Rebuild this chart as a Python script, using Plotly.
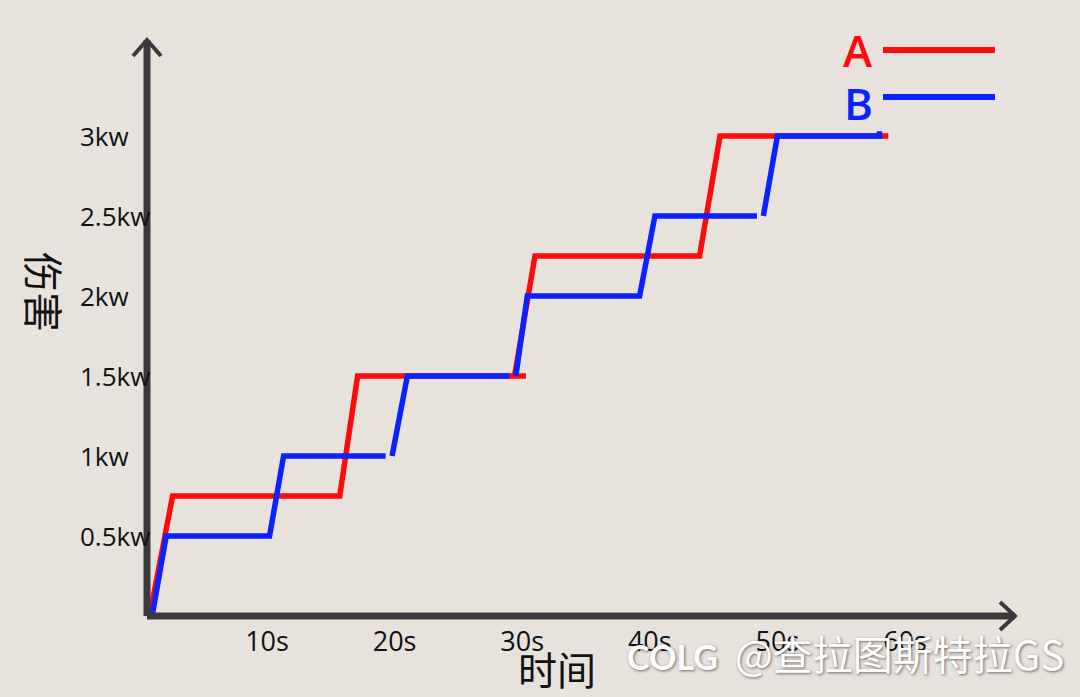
import plotly.graph_objects as go

# ---- data (seconds, kw) ----
a_time = [0.8, 2.6, 15.7, 17.1, 30.3, None, 29.4, 31.0, 43.9, 45.5, 58.7]
a_dmg = [0.0, 0.75, 0.75, 1.5, 1.5, None, 1.5, 2.25, 2.25, 3.0, 3.0]

b_time = [1.0, 2.1, 10.2, 11.3, 19.3, None, 19.8, 21.0, 29.0, None, 29.5, 30.4,
          39.2, 40.4, 48.4, None, 48.9, 50.0, 58.0, 58.0]
b_dmg = [0.0, 0.5, 0.5, 1.0, 1.0, None, 1.0, 1.5, 1.5, None, 1.5, 2.0,
         2.0, 2.5, 2.5, None, 2.5, 3.0, 3.0, 3.03]

x_tick_vals = [10, 20, 30, 40, 50, 60]
x_tick_text = ["10s", "20s", "30s", "40s", "50s", "60s"]
y_tick_vals = [0.5, 1.0, 1.5, 2.0, 2.5, 3.0]
y_tick_text = ["0.5kw", "1kw", "1.5kw", "2kw", "2.5kw", "3kw"]

series_names = ["A", "B"]
series_colors = ["#ff0a0a", "#0a22ff"]

W, H = 1080, 697
L, R, T, B = 147, 65, 40, 81
PW, PH = W - L - R, H - T - B

def px_x(p):
    return (p - L) / PW

def px_y(p):
    return (H - B - p) / PH

fig = go.Figure()
fig.add_trace(go.Scatter(x=a_time, y=a_dmg, mode="lines", name=series_names[0],
                         line=dict(color=series_colors[0], width=5.5), connectgaps=False))
fig.add_trace(go.Scatter(x=b_time, y=b_dmg, mode="lines", name=series_names[1],
                         line=dict(color=series_colors[1], width=5.5), connectgaps=False))

axis_col = "#3a3a3c"
shapes = [
    dict(type="line", xref="paper", yref="paper", x0=0, y0=0, x1=0, y1=1,
         line=dict(color=axis_col, width=7)),
    dict(type="path", xref="paper", yref="paper",
         path=f"M {px_x(133)} {px_y(56)} L 0 1 L {px_x(161)} {px_y(56)}",
         line=dict(color=axis_col, width=4)),
    dict(type="line", xref="paper", yref="paper", x0=0, y0=0, x1=1, y1=0,
         line=dict(color=axis_col, width=7)),
    dict(type="path", xref="paper", yref="paper",
         path=f"M {px_x(1000)} {px_y(602)} L 1 0 L {px_x(1000)} {px_y(630)}",
         line=dict(color=axis_col, width=4)),
    dict(type="line", xref="paper", yref="paper", x0=px_x(883), x1=px_x(995),
         y0=px_y(50), y1=px_y(50), line=dict(color=series_colors[0], width=6)),
    dict(type="line", xref="paper", yref="paper", x0=px_x(883), x1=px_x(995),
         y0=px_y(97), y1=px_y(97), line=dict(color=series_colors[1], width=6)),
]

annotations = []
for v, t in zip(y_tick_vals, y_tick_text):
    annotations.append(dict(x=px_x(78), xref="paper", xanchor="left", y=v, yref="y",
                            yanchor="middle", text=t, showarrow=False,
                            font=dict(family="Open Sans", size=26, color="#111")))
for name, col, yy in zip(series_names, series_colors, [50, 103]):
    annotations.append(dict(x=px_x(858), xref="paper", xanchor="center", y=px_y(yy),
                            yref="paper", yanchor="middle", text=name, showarrow=False,
                            font=dict(family="Open Sans", size=44, color=col, weight=600)))
annotations.append(dict(x=px_x(557), y=px_y(671), xref="paper", yref="paper",
                        yshift=-27, text="时间", showarrow=False,
                        font=dict(family="Noto Sans CJK SC", size=39, color="#111")))
annotations.append(dict(x=px_x(42), y=px_y(292), xref="paper", yref="paper",
                        xshift=-28, text="伤害", showarrow=False, textangle=90,
                        font=dict(family="Noto Sans CJK SC", size=40, color="#111")))
# watermark
annotations.append(dict(x=px_x(672), y=px_y(657), xref="paper", yref="paper",
                        yshift=-22, text="<b>COLG</b>", showarrow=False,
                        font=dict(family="Lato", size=34, color="white",
                                  shadow="1px 1px 3px rgba(0,0,0,0.55)")))
annotations.append(dict(x=px_x(1066), y=px_y(656), xref="paper", yref="paper",
                        yshift=-28, xanchor="right", text="@查拉图斯特拉GS", showarrow=False,
                        font=dict(family="Noto Sans CJK SC", size=40, color="white",
                                  shadow="1px 1px 3px rgba(0,0,0,0.55)")))

x0 = (L - 139.4) / 12.76
x1 = (L + PW - 139.4) / 12.76
fig.update_layout(
    width=W, height=H,
    margin=dict(l=L, r=R, t=T, b=B),
    paper_bgcolor="#e8e2dc", plot_bgcolor="#e8e2dc",
    showlegend=False,
    shapes=shapes, annotations=annotations,
    xaxis=dict(range=[x0, x1], showgrid=False, zeroline=False, showline=False,
               tickvals=x_tick_vals, ticktext=x_tick_text, ticks="",
               ticklabelstandoff=7,
               tickfont=dict(family="Open Sans", size=27, color="#111")),
    yaxis=dict(range=[0, PH / 160], showgrid=False, zeroline=False, showline=False,
               showticklabels=False, ticks=""),
)
fig.write_html("out.html", config={"displayModeBar": False},
               post_script="document.body.style.margin='0';document.body.style.overflow='hidden';document.body.style.background='#e8e2dc';")
